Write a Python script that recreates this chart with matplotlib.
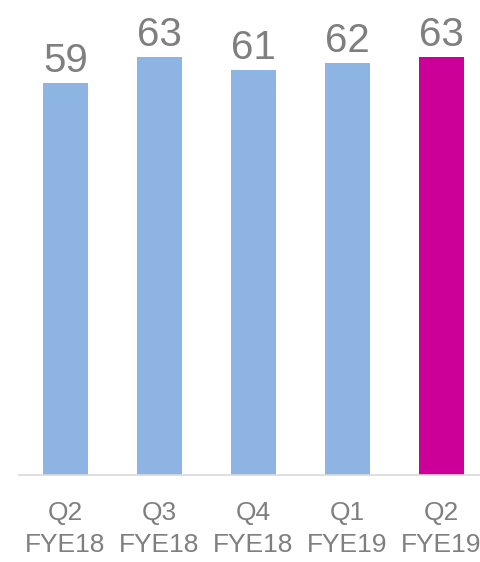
import matplotlib
matplotlib.use("Agg")
import matplotlib.pyplot as plt

categories = ["Q2\nFYE18", "Q3\nFYE18", "Q4\nFYE18", "Q1\nFYE19", "Q2\nFYE19"]
values = [59, 63, 61, 62, 63]
colors = ["#8EB4E3", "#8EB4E3", "#8EB4E3", "#8EB4E3", "#CC0099"]

fam = ["Liberation Sans", "DejaVu Sans"]
gray = "#7F7F7F"

fig = plt.figure(figsize=(4.81, 5.62), dpi=100)
ax = fig.add_axes([18.5 / 481, 1 - 475 / 562, 470 / 481, 465 / 562])
x = list(range(len(values)))
bars = ax.bar(x, values, width=0.48, color=colors, zorder=2)
ax.set_xlim(-0.5, 4.5)
ax.set_ylim(0, 70)

for xi, v in zip(x, values):
    ax.annotate(str(v), (xi, v), xytext=(0, 2), textcoords="offset points",
                ha="center", va="bottom", fontsize=29, color=gray, family=fam)

ax.set_xticks(x)
ax.set_xticklabels(categories, fontsize=19, color=gray, family=fam, linespacing=1.4)
ax.tick_params(axis="x", length=0, pad=19)
ax.set_yticks([])
for s in ["top", "right", "left"]:
    ax.spines[s].set_visible(False)
ax.spines["bottom"].set_color("#D9D9D9")
ax.spines["bottom"].set_linewidth(1.2)

fig.savefig("out.png", dpi=100)
